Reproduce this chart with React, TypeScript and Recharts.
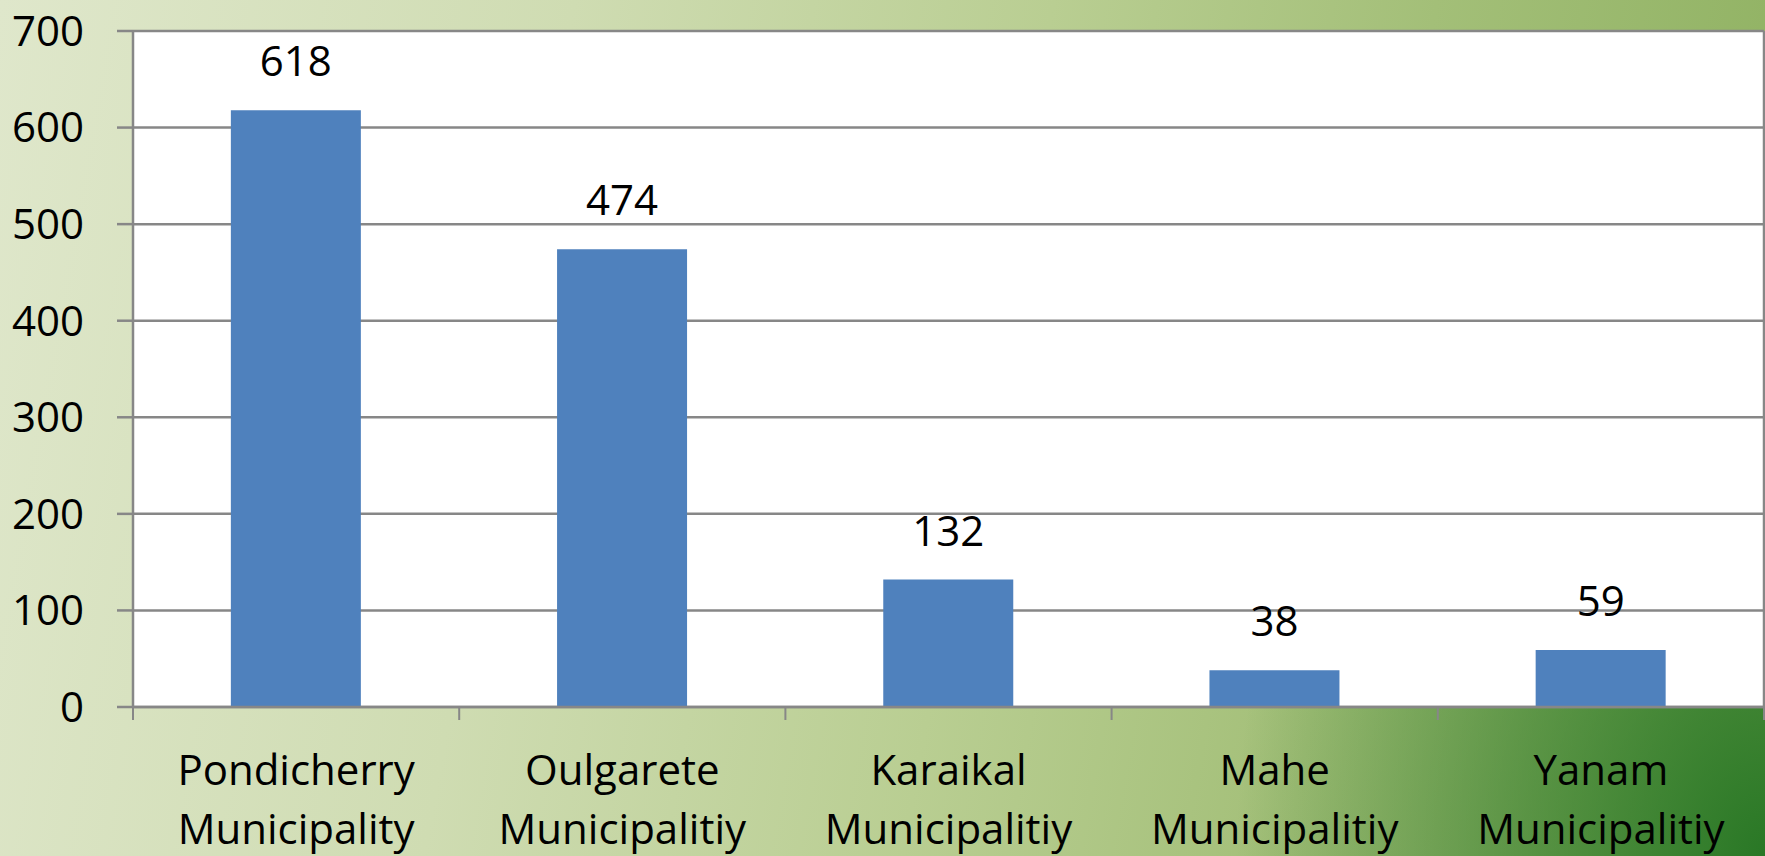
import React from "react";
import { BarChart, Bar, XAxis, YAxis, CartesianGrid, LabelList } from "recharts";

const categories = [
  "Pondicherry Municipality",
  "Oulgarete Municipalitiy",
  "Karaikal Municipalitiy",
  "Mahe Municipalitiy",
  "Yanam Municipalitiy",
];
const values = [618, 474, 132, 38, 59];
const yTicks = [0, 100, 200, 300, 400, 500, 600, 700];

const data = categories.map((c, i) => ({ name: c, value: values[i] }));

const W = 1765;
const H = 856;
const Y_AXIS_W = 133;
const RIGHT_AXIS_W = 1;
const BAND = (W - Y_AXIS_W - RIGHT_AXIS_W) / categories.length;
const FONT = "'Open Sans', 'Noto Sans', sans-serif";
const FS = 42;
const AXIS_COLOR = "#878787";

const XTick = (props: any) => {
  const { x, y, payload, index } = props;
  const words = String(payload.value).split(" ");
  const first = words[0];
  const rest = words.slice(1).join(" ");
  const left = x - BAND / 2;
  const right = x + BAND / 2;
  return (
    <g>
      <line x1={left} x2={left} y1={y} y2={y + 13} stroke={AXIS_COLOR} strokeWidth={2} />
      {index === categories.length - 1 && (
        <line x1={right} x2={right} y1={y} y2={y + 13} stroke={AXIS_COLOR} strokeWidth={2} />
      )}
      <text x={x} y={y + 78} textAnchor="middle" fontFamily={FONT} fontSize={FS} fill="#000">
        {first}
      </text>
      <text x={x} y={y + 137} textAnchor="middle" fontFamily={FONT} fontSize={FS} fill="#000">
        {rest}
      </text>
    </g>
  );
};

export default function App() {
  return (
    <div
      style={{
        position: "absolute",
        left: 0,
        top: 0,
        width: W,
        height: H,
        background:
          "radial-gradient(ellipse 30% 85% at 100% 100%, rgba(38,118,36,0.97) 0%, rgba(38,118,36,0.5) 50%, rgba(38,118,36,0) 100%), linear-gradient(100deg, #dfe7cb 0%, #cfdcb2 30%, #b9ce92 55%, #a3bf78 75%, #8caf5e 100%)",
      }}
    >
      <BarChart
        width={W}
        height={H}
        data={data}
        margin={{ top: 31, right: 0, left: 0, bottom: 0 }}
        barCategoryGap="30%"
      >
        <CartesianGrid
          vertical={false}
          fill="#ffffff"
          stroke={AXIS_COLOR}
          strokeWidth={2.5}
          strokeOpacity={1}
        />
        <XAxis
          dataKey="name"
          height={149}
          tickSize={0}
          tickMargin={0}
          axisLine={{ stroke: AXIS_COLOR, strokeWidth: 2.5 }}
          tickLine={false}
          tick={<XTick />}
          interval={0}
        />
        <YAxis
          width={Y_AXIS_W}
          domain={[0, 700]}
          ticks={yTicks}
          interval={0}
          tickSize={16}
          tickMargin={33}
          axisLine={{ stroke: AXIS_COLOR, strokeWidth: 2.5 }}
          tickLine={{ stroke: AXIS_COLOR, strokeWidth: 2.5 }}
          tick={{ fontFamily: FONT, fontSize: FS, fill: "#000" }}
        />
        <YAxis
          yAxisId="right"
          orientation="right"
          width={RIGHT_AXIS_W}
          domain={[0, 700]}
          tick={false}
          tickLine={false}
          axisLine={{ stroke: AXIS_COLOR, strokeWidth: 2.5 }}
        />
        <Bar dataKey="value" fill="#4f81bd" isAnimationActive={false}>
          <LabelList
            dataKey="value"
            position="top"
            offset={34}
            fontFamily={FONT}
            fontSize={FS}
            fill="#000"
          />
        </Bar>
      </BarChart>
    </div>
  );
}
